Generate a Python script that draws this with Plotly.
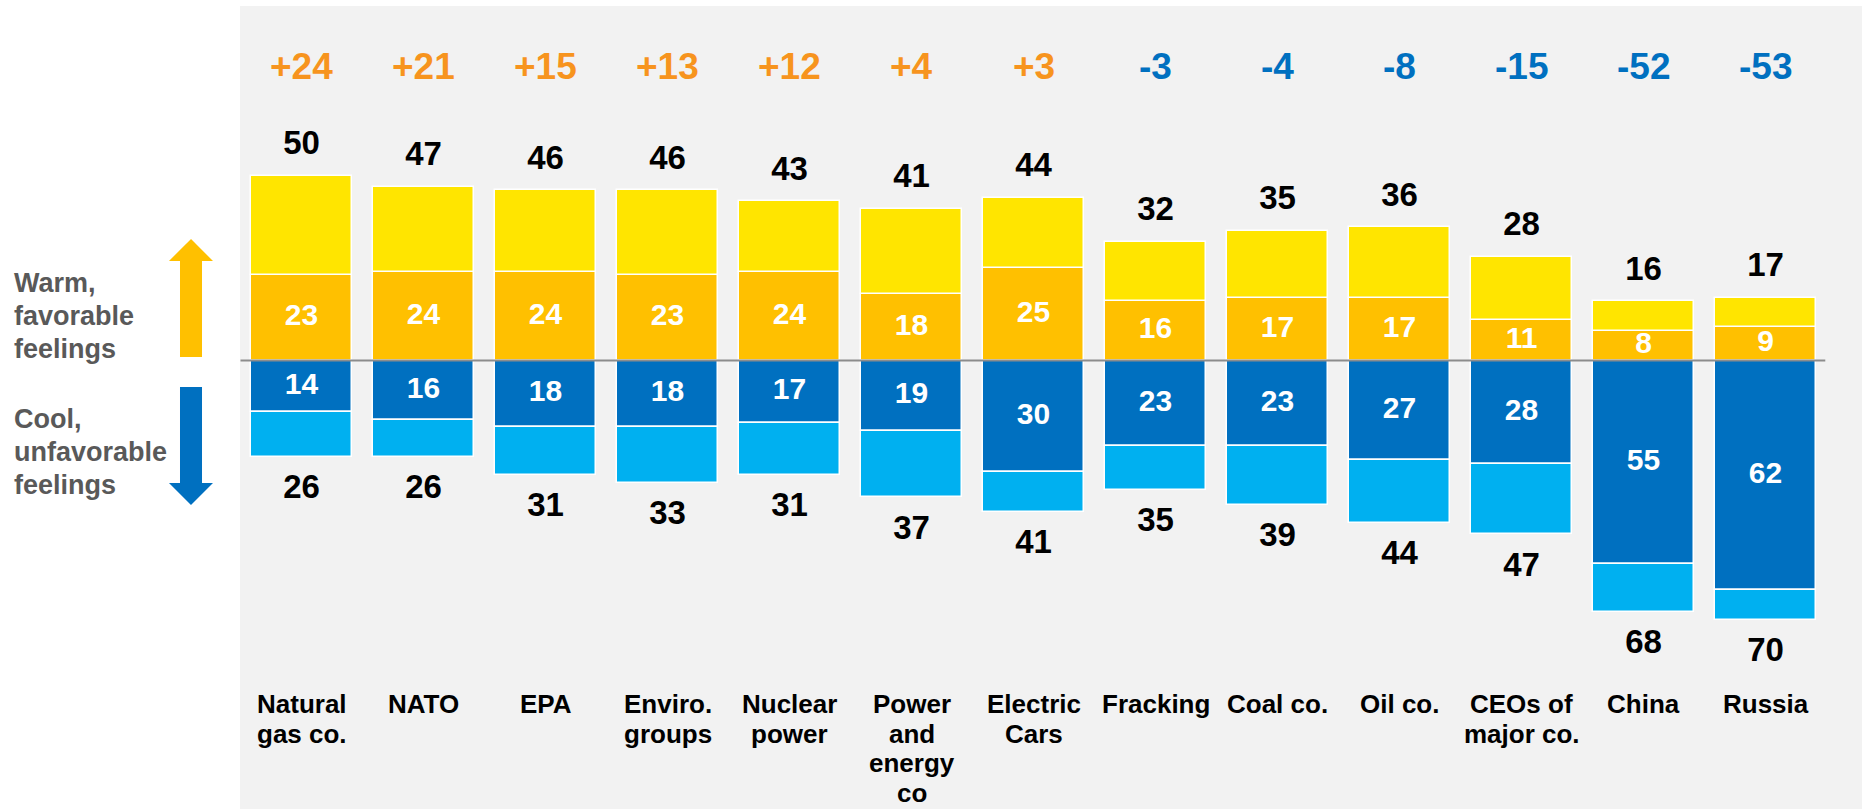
import plotly.graph_objects as go

# ---------------- data ----------------
categories = ["Natural gas co.", "NATO", "EPA", "Enviro. groups", "Nuclear power",
              "Power and energy co", "Electric Cars", "Fracking", "Coal co.", "Oil co.",
              "CEOs of major co.", "China", "Russia"]
label_lines = [["Natural", "gas co."], ["NATO"], ["EPA"], ["Enviro.", "groups"],
               ["Nuclear", "power"], ["Power", "and", "energy", "co"], ["Electric", "Cars"],
               ["Fracking"], ["Coal co."], ["Oil co."], ["CEOs of", "major co."],
               ["China"], ["Russia"]]
warm_total = [50, 47, 46, 46, 43, 41, 44, 32, 35, 36, 28, 16, 17]
warm_strong = [23, 24, 24, 23, 24, 18, 25, 16, 17, 17, 11, 8, 9]
cool_total = [26, 26, 31, 33, 31, 37, 41, 35, 39, 44, 47, 68, 70]
cool_strong = [14, 16, 18, 18, 17, 19, 30, 23, 23, 27, 28, 55, 62]
net_labels = ["+24", "+21", "+15", "+13", "+12", "+4", "+3", "-3", "-4", "-8", "-15", "-52", "-53"]

# ---------------- style ----------------
W, H = 1862, 809
FONT = "Liberation Sans, Arial, sans-serif"
YELLOW, ORANGE, DBLUE, LBLUE = "#FFE500", "#FFC000", "#0070C0", "#00B0F0"
NET_POS, NET_NEG = "#F7941E", "#0070C0"
PANEL = "#F2F2F2"

def px(x):
    return x / W

def py(y):
    return 1 - y / H

warm_weak = [t - s for t, s in zip(warm_total, warm_strong)]
cool_weak = [t - s for t, s in zip(cool_total, cool_strong)]

bar_kw = dict(width=0.828, marker_line=dict(color="white", width=1.5), hoverinfo="skip")

fig = go.Figure()
fig.add_trace(go.Bar(x=categories, y=warm_strong, marker_color=ORANGE, **bar_kw))
fig.add_trace(go.Bar(x=categories, y=warm_weak, marker_color=YELLOW, **bar_kw))
fig.add_trace(go.Bar(x=categories, y=[-v for v in cool_strong], marker_color=DBLUE, **bar_kw))
fig.add_trace(go.Bar(x=categories, y=[-v for v in cool_weak], marker_color=LBLUE, **bar_kw))

# inner labels
fig.add_trace(go.Scatter(x=categories, y=[v / 2 for v in warm_strong], mode="text",
                         text=[str(v) for v in warm_strong],
                         textfont=dict(family=FONT, size=30, color="white", weight="bold"),
                         hoverinfo="skip"))
fig.add_trace(go.Scatter(x=categories, y=[-v / 2 for v in cool_strong], mode="text",
                         text=[str(v) for v in cool_strong],
                         textfont=dict(family=FONT, size=30, color="white", weight="bold"),
                         hoverinfo="skip"))
# totals
TOP_OFF, BOT_OFF = 8.1, 8.9
fig.add_trace(go.Scatter(x=categories, y=[v + TOP_OFF for v in warm_total], mode="text",
                         text=[str(v) for v in warm_total],
                         textfont=dict(family=FONT, size=33, color="black", weight="bold"),
                         hoverinfo="skip"))
fig.add_trace(go.Scatter(x=categories, y=[-v - BOT_OFF for v in cool_total], mode="text",
                         text=[str(v) for v in cool_total],
                         textfont=dict(family=FONT, size=33, color="black", weight="bold"),
                         hoverinfo="skip"))

annotations = []
# net labels
for c, t in zip(categories, net_labels):
    annotations.append(dict(x=c, y=py(66), xref="x", yref="paper", text=t, showarrow=False,
                            xanchor="center", yanchor="middle",
                            font=dict(family=FONT, size=37, weight="bold",
                                      color=NET_POS if t.startswith("+") else NET_NEG)))
# category labels (one annotation per line)
for c, lines in zip(categories, label_lines):
    for k, ln in enumerate(lines):
        annotations.append(dict(x=c, y=py(704 + 29.7 * k), xref="x", yref="paper", text=ln,
                                showarrow=False, xanchor="center", yanchor="middle",
                                font=dict(family=FONT, size=26, weight="bold", color="black")))
# left side labels
for k, ln in enumerate(["Warm,", "favorable", "feelings"]):
    annotations.append(dict(x=px(12), y=py(283 + 33 * k), xref="paper", yref="paper", text=ln,
                            showarrow=False, xanchor="left", yanchor="middle",
                            font=dict(family=FONT, size=27, weight="bold", color="#595959")))
for k, ln in enumerate(["Cool,", "unfavorable", "feelings"]):
    annotations.append(dict(x=px(12), y=py(419 + 33 * k), xref="paper", yref="paper", text=ln,
                            showarrow=False, xanchor="left", yanchor="middle",
                            font=dict(family=FONT, size=27, weight="bold", color="#595959")))

def path(points):
    return "M " + " L ".join(f"{px(x):.5f},{py(y):.5f}" for x, y in points) + " Z"

shapes = [
    dict(type="rect", xref="paper", yref="paper", x0=px(240), x1=1, y0=0, y1=py(6),
         fillcolor=PANEL, line_width=0, layer="below"),
    dict(type="line", xref="x", yref="y", x0=-0.5, x1=12.49, y0=0, y1=0,
         line=dict(color="#8C8C8C", width=2), layer="above"),
    dict(type="path", xref="paper", yref="paper", fillcolor=ORANGE, line_width=0,
         path=path([(180, 357), (180, 261), (169, 261), (191, 239), (213, 261), (202, 261), (202, 357)])),
    dict(type="path", xref="paper", yref="paper", fillcolor=DBLUE, line_width=0,
         path=path([(180, 387), (202, 387), (202, 483), (213, 483), (191, 505), (169, 483), (180, 483)])),
]

x0 = -301.5 / 122
x1 = (W - 301.5) / 122
scale = 3.70
y_top = 360.5 / scale
y_bot = -(H - 360.5) / scale

fig.update_layout(
    width=W, height=H, margin=dict(l=0, r=0, t=0, b=0),
    barmode="relative", bargap=0, showlegend=False,
    paper_bgcolor="white", plot_bgcolor="rgba(0,0,0,0)",
    xaxis=dict(range=[x0, x1], showticklabels=False, showgrid=False, zeroline=False,
               categoryorder="array", categoryarray=categories, fixedrange=True),
    yaxis=dict(range=[y_bot, y_top], showticklabels=False, showgrid=False, zeroline=False,
               fixedrange=True),
    annotations=annotations, shapes=shapes,
)

fig.write_html("out.html", config={"displayModeBar": False},
               post_script="document.body.style.margin='0';")
